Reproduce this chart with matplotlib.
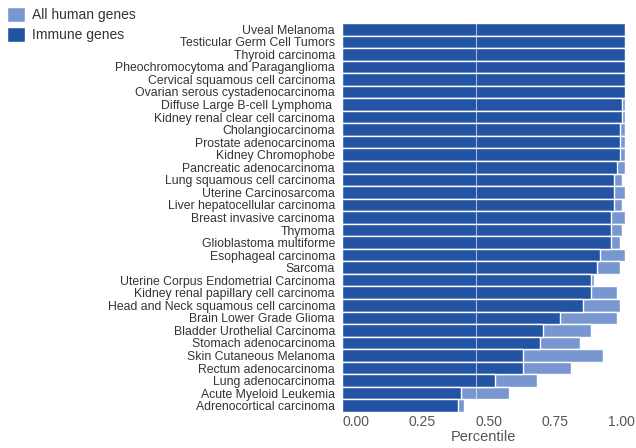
"""Percentile of immune genes vs all human genes across TCGA cancer types."""

import matplotlib.pyplot as plt
from matplotlib.patches import Patch
from matplotlib.transforms import ScaledTranslation

plt.rcParams["font.family"] = ["Liberation Sans", "DejaVu Sans"]

cancer_types = [
    "Uveal Melanoma",
    "Testicular Germ Cell Tumors",
    "Thyroid carcinoma",
    "Pheochromocytoma and Paraganglioma",
    "Cervical squamous cell carcinoma",
    "Ovarian serous cystadenocarcinoma",
    "Diffuse Large B-cell Lymphoma ",
    "Kidney renal clear cell carcinoma",
    "Cholangiocarcinoma",
    "Prostate adenocarcinoma",
    "Kidney Chromophobe",
    "Pancreatic adenocarcinoma",
    "Lung squamous cell carcinoma",
    "Uterine Carcinosarcoma",
    "Liver hepatocellular carcinoma",
    "Breast invasive carcinoma",
    "Thymoma",
    "Glioblastoma multiforme",
    "Esophageal carcinoma",
    "Sarcoma",
    "Uterine Corpus Endometrial Carcinoma",
    "Kidney renal papillary cell carcinoma",
    "Head and Neck squamous cell carcinoma",
    "Brain Lower Grade Glioma",
    "Bladder Urothelial Carcinoma",
    "Stomach adenocarcinoma",
    "Skin Cutaneous Melanoma",
    "Rectum adenocarcinoma",
    "Lung adenocarcinoma",
    "Acute Myeloid Leukemia",
    "Adrenocortical carcinoma",
]

immune_pct = [
    1.00, 1.00, 1.00, 1.00, 1.00, 1.00, 0.99, 0.99, 0.98, 0.98, 0.98,
    0.97, 0.96, 0.96, 0.96, 0.95, 0.95, 0.95, 0.91, 0.90, 0.88, 0.88,
    0.85, 0.77, 0.71, 0.70, 0.64, 0.64, 0.54, 0.42, 0.41,
]

all_genes_pct = [
    1.00, 1.00, 1.00, 1.00, 1.00, 1.00, 1.00, 1.00, 1.00, 1.00, 1.00,
    1.00, 0.99, 1.00, 0.99, 1.00, 0.99, 0.98, 1.00, 0.98, 0.89, 0.97,
    0.98, 0.97, 0.88, 0.84, 0.92, 0.81, 0.69, 0.59, 0.43,
]

x_ticks = [0.0, 0.25, 0.5, 0.75, 1.0]
x_tick_labels = ["0.00", "0.25", "0.50", "0.75", "1.00"]

DARK = "#2353a3"
LIGHT = "#7897d1"
REF_LINE = 0.472


def main() -> None:
    fig = plt.figure(figsize=(6.36, 4.48), dpi=100)
    ax = fig.add_axes([0.5377, 0.0804, 0.4455, 0.8683])

    ypos = list(range(len(cancer_types)))
    ax.barh(ypos, all_genes_pct, height=1.0, color=LIGHT, edgecolor="white", linewidth=1.0, zorder=1)
    ax.barh(ypos, immune_pct, height=1.0, color=DARK, edgecolor="white", linewidth=1.0, zorder=2)
    ax.axvline(REF_LINE, color="white", linewidth=0.8, alpha=0.6, zorder=3)

    ax.set_ylim(len(cancer_types) - 0.5, -0.5)
    ax.set_xlim(0, 1.0)
    ax.set_yticks(ypos)
    ax.set_yticklabels(cancer_types, fontsize=8.8, color="#333333")
    ax.set_xticks(x_ticks)
    ax.set_xticklabels(x_tick_labels, fontsize=10, color="#555555")
    ax.tick_params(axis="both", length=0)
    ax.tick_params(axis="y", pad=5)
    ax.tick_params(axis="x", pad=2)
    ax.set_xlabel("Percentile", fontsize=10.5, color="#555555", labelpad=1)
    for spine in ax.spines.values():
        spine.set_visible(False)

    # pull the x tick labels slightly inward so the outer ones stay on the canvas
    for tick, lab in zip(x_ticks, ax.get_xticklabels()):
        dx = (14 - 18 * tick) / 100
        lab.set_transform(lab.get_transform() + ScaledTranslation(dx, 0, fig.dpi_scale_trans))

    handles = [
        Patch(facecolor=LIGHT, edgecolor="white", label="All human genes"),
        Patch(facecolor=DARK, edgecolor="white", label="Immune genes"),
    ]
    fig.legend(
        handles=handles,
        loc="upper left",
        bbox_to_anchor=(-0.008, 1.012),
        frameon=False,
        fontsize=10,
        handlelength=1.3,
        handleheight=1.3,
        handletextpad=0.5,
        labelspacing=0.35,
        labelcolor="#333333",
    )

    fig.savefig("out.png", dpi=100)


if __name__ == "__main__":
    main()
